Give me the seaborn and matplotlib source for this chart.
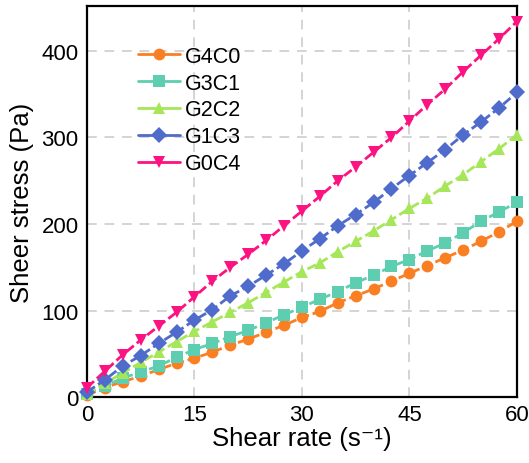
import matplotlib
matplotlib.use("Agg")
import matplotlib.pyplot as plt
import seaborn as sns
import pandas as pd
import numpy as np

# Shear rate sweep (s^-1)
shear_rate = [0, 2.5, 5, 7.5, 10, 12.5, 15, 17.5, 20, 22.5, 25, 27.5, 30,
              32.5, 35, 37.5, 40, 42.5, 45, 47.5, 50, 52.5, 55, 57.5, 60]

# Shear stress (Pa) for each formulation
g4c0 = [2, 11, 18, 24, 32, 39, 45, 52, 60, 67, 75, 83, 92,
        99, 109, 117, 125, 134, 143, 152, 161, 170, 180, 191, 203]
g3c1 = [4, 13, 22, 29, 36, 46, 55, 62, 70, 77, 86, 95, 104,
        113, 122, 132, 141, 151, 159, 169, 178, 190, 203, 214, 225]
g2c2 = [4, 16, 28, 40, 52, 64, 76, 87, 98, 109, 121, 133, 145,
        155, 168, 180, 192, 205, 218, 230, 244, 257, 272, 287, 303]
g1c3 = [6, 20, 36, 48, 62, 75, 89, 101, 117, 128, 141, 154, 169,
        183, 198, 211, 225, 241, 256, 271, 286, 303, 318, 334, 352]
g0c4 = [11, 30, 49, 66, 82, 98, 116, 134, 150, 165, 181, 198, 215,
        232, 250, 266, 283, 300, 319, 338, 356, 376, 395, 414, 434]

samples = ["G4C0", "G3C1", "G2C2", "G1C3", "G0C4"]
series = [g4c0, g3c1, g2c2, g1c3, g0c4]
colors = ["#FA7F22", "#5ECEB0", "#A6E659", "#4F6BCB", "#FC1280"]
marker_shapes = ["o", "s", "^", "D", "v"]

df = pd.DataFrame({
    "Shear rate": np.tile(shear_rate, len(samples)),
    "Shear stress": np.concatenate(series),
    "Sample": np.repeat(samples, len(shear_rate)),
})

sns.set_style("white")
plt.rcParams["font.family"] = ["Liberation Sans", "DejaVu Sans"]
for key in ("text.color", "axes.labelcolor", "xtick.color", "ytick.color"):
    plt.rcParams[key] = "black"

fig = plt.figure(figsize=(5.29, 4.64), dpi=100)
ax = fig.add_axes([0.1645, 0.142, 0.8125, 0.843])

sns.lineplot(
    data=df, x="Shear rate", y="Shear stress", hue="Sample", style="Sample",
    hue_order=samples, style_order=samples,
    palette=dict(zip(samples, colors)),
    markers=dict(zip(samples, marker_shapes)),
    dashes={s: (3.4, 1.4) for s in samples},
    linewidth=2.0, markersize=8.5, markeredgewidth=0,
    ax=ax, legend=True,
)
for ln in ax.lines:
    ln.set_clip_on(False)
    ln.set_zorder(3)

ax.set_xlim(0, 60)
ax.set_ylim(0, 452)
ax.set_xticks([0, 15, 30, 45, 60])
ax.set_yticks([0, 100, 200, 300, 400])
ax.grid(True, color="#d4d4d4", linestyle=(0, (5, 4)), linewidth=1.4)
ax.set_axisbelow(True)

for sp in ax.spines.values():
    sp.set_visible(True)
    sp.set_color("black")
    sp.set_linewidth(1.6)

ax.tick_params(axis="y", direction="out", length=4, width=1.3, labelsize=16, pad=2)
ax.tick_params(axis="x", direction="in", length=4, width=1.3, labelsize=16, pad=5)
ax.set_xlabel("Shear rate (s⁻¹)", fontsize=18.5, labelpad=1)
ax.set_ylabel("Sheer stress (Pa)", fontsize=18.5, labelpad=5)

leg = ax.legend(loc="upper left", bbox_to_anchor=(0.098, 0.92), frameon=False,
                fontsize=15.5, handlelength=1.95, handletextpad=0.22,
                labelspacing=0.27, borderaxespad=0)
for h in leg.get_lines():
    h.set_linestyle("-")
    h.set_linewidth(2.0)

fig.savefig("out.png", dpi=100)
